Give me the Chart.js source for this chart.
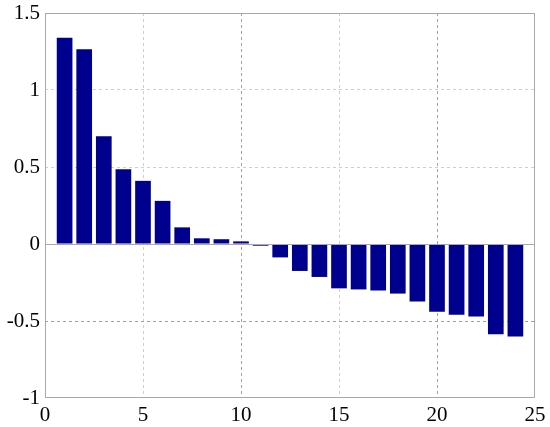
<!DOCTYPE html>
<html>
<head>
<meta charset="utf-8">
<script src="https://cdn.jsdelivr.net/npm/chart.js@4/dist/chart.umd.min.js"></script>
<style>
  html, body { margin: 0; padding: 0; background: #fff; }
  #wrap { width: 550px; height: 427px; }
</style>
</head>
<body>
<div id="wrap"><canvas id="c" width="550" height="427"></canvas></div>
<script>
const positions = [1,2,3,4,5,6,7,8,9,10,11,12,13,14,15,16,17,18,19,20,21,22,23,24];
const values = [1.34,1.264,0.70,0.485,0.41,0.28,0.108,0.037,0.031,0.017,-0.011,-0.087,
                -0.175,-0.214,-0.288,-0.295,-0.302,-0.322,-0.374,-0.44,-0.46,-0.47,-0.586,-0.60];
const xTicks = [0,5,10,15,20,25];
const yTicks = [-1,-0.5,0,0.5,1,1.5];

const framePlugin = {
  id: 'frame',
  afterDraw(chart) {
    const {ctx, chartArea: a, scales} = chart;
    ctx.save();
    ctx.setLineDash([]);
    ctx.strokeStyle = '#a8a8a8';
    ctx.lineWidth = 1;
    const y0 = Math.round(scales.y.getPixelForValue(0)) + 0.5;
    ctx.beginPath();
    ctx.moveTo(a.left, y0); ctx.lineTo(a.right, y0);
    ctx.stroke();
    ctx.strokeRect(Math.round(a.left)+0.5, Math.round(a.top)+0.5,
                   Math.round(a.right-a.left)-1, Math.round(a.bottom-a.top)-1);
    ctx.restore();
  }
};

const dark = v => (v === 10 || v === 20 || v === -0.5);

new Chart(document.getElementById('c'), {
  type: 'bar',
  data: {
    datasets: [{
      data: positions.map((p, i) => ({x: p, y: values[i]})),
      backgroundColor: '#00008f',
      borderWidth: 0,
      barPercentage: 0.8,
      categoryPercentage: 1.0
    }]
  },
  options: {
    responsive: false,
    animation: false,
    devicePixelRatio: 1,
    layout: { padding: { top: 13, right: 15, left: 0, bottom: 0 } },
    plugins: { legend: { display: false }, tooltip: { enabled: false } },
    scales: {
      x: {
        type: 'linear',
        min: 0, max: 25,
        offset: false,
        afterBuildTicks: s => { s.ticks = xTicks.map(v => ({value: v})); },
        afterFit: s => { s.height = 29; s.paddingLeft = 0; s.paddingRight = 0; },
        grid: {
          offset: false,
          drawTicks: false,
          color: ctx => {
            const v = ctx.tick ? ctx.tick.value : null;
            if (v === 0 || v === 25) return 'rgba(0,0,0,0)';
            return dark(v) ? '#a0a0a0' : '#cfcfcf';
          },
          lineWidth: 1
        },
        border: { display: false, dash: [3, 3] },
        ticks: {
          padding: 5,
          color: '#000',
          maxRotation: 0,
          font: { family: 'Liberation Serif', size: 21 },
          callback: v => String(v)
        }
      },
      y: {
        type: 'linear',
        min: -1, max: 1.5,
        afterBuildTicks: s => { s.ticks = yTicks.map(v => ({value: v})); },
        afterFit: s => { s.width = 45; s.paddingTop = 0; s.paddingBottom = 0; },
        grid: {
          drawTicks: false,
          color: ctx => {
            const v = ctx.tick ? ctx.tick.value : null;
            if (v === -1 || v === 1.5 || v === 0) return 'rgba(0,0,0,0)';
            return dark(v) ? '#a0a0a0' : '#cfcfcf';
          },
          lineWidth: 1
        },
        border: { display: false, dash: [3, 3] },
        ticks: {
          padding: 5,
          color: '#000',
          font: { family: 'Liberation Serif', size: 21 },
          callback: v => String(v)
        }
      }
    }
  },
  plugins: [framePlugin]
});
</script>
</body>
</html>
